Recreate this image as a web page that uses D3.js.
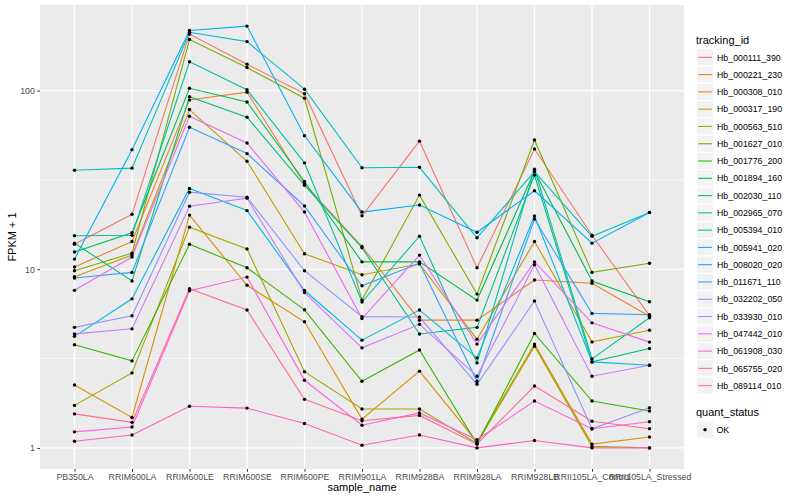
<!DOCTYPE html>
<html>
<head>
<meta charset="utf-8">
<script src="https://cdnjs.cloudflare.com/ajax/libs/d3/7.8.5/d3.min.js"></script>
<style>
  body { margin: 0; background: #ffffff; }
  svg text { font-family: 'Liberation Sans', Arial, Helvetica, sans-serif; }
</style>
</head>
<body>
<svg class="chart" width="800" height="500"></svg>
<script>
// sample names on the x axis
const samples = [
  'PB350LA', 'RRIM600LA', 'RRIM600LE', 'RRIM600SE', 'RRIM600PE', 'RRIM901LA',
  'RRIM928BA', 'RRIM928LA', 'RRIM928LB', 'RRII105LA_Control', 'RRII105LA_Stressed'
];

// one series per tracking id
const trackingIds = [
  'Hb_000111_390', 'Hb_000221_230', 'Hb_000308_010', 'Hb_000317_190', 'Hb_000563_510',
  'Hb_001627_010', 'Hb_001776_200', 'Hb_001894_160', 'Hb_002030_110', 'Hb_002965_070',
  'Hb_005394_010', 'Hb_005941_020', 'Hb_008020_020', 'Hb_011671_110', 'Hb_032202_050',
  'Hb_033930_010', 'Hb_047442_010', 'Hb_061908_030', 'Hb_065755_020', 'Hb_089114_010'
];

// FPKM + 1, rows follow trackingIds, columns follow samples
const fpkm = [
  [13.8, 20.3, 207, 140.6, 96.0, 19.9, 52.1, 10.2, 47.1, 15.5, 5.5],
  [10.3, 14.3, 88.7, 98.0, 30.0, 13.4, 5.19, 5.19, 8.7, 8.35, 5.45],
  [2.25, 1.48, 20.1, 8.13, 5.08, 1.45, 2.69, 1.08, 3.81, 1.05, 1.15],
  [9.08, 12.0, 78.3, 40.2, 12.2, 9.31, 10.7, 4.06, 14.3, 3.92, 4.56],
  [1.73, 2.63, 17.2, 13.0, 2.67, 1.65, 1.65, 1.06, 3.71, 1.02, 1.0],
  [9.81, 12.3, 193, 134.6, 90.6, 6.72, 26.0, 7.26, 52.9, 9.6, 10.8],
  [3.78, 3.07, 13.8, 10.2, 5.93, 2.36, 3.53, 1.05, 4.37, 1.83, 1.61],
  [12.5, 16.0, 103, 86.4, 31.0, 11.0, 11.0, 6.72, 35.5, 8.6, 6.58],
  [14.0, 8.6, 92.5, 71.0, 29.5, 13.2, 4.34, 4.73, 33.7, 3.03, 3.6],
  [15.4, 15.5, 145, 101, 39.4, 6.55, 15.3, 2.99, 36.3, 3.15, 5.35],
  [35.8, 36.8, 212, 188, 101.8, 37.0, 37.2, 15.0, 35.2, 15.3, 20.8],
  [4.21, 6.83, 28.3, 21.3, 7.6, 4.01, 5.91, 3.19, 19.9, 3.03, 2.9],
  [11.4, 46.7, 217, 229.6, 55.9, 20.9, 22.9, 16.1, 27.5, 14.0, 20.8],
  [8.93, 9.6, 62.4, 44.4, 22.6, 8.08, 10.8, 2.36, 19.1, 5.66, 5.56],
  [4.73, 5.49, 27.0, 25.3, 9.81, 5.43, 5.4, 2.27, 6.64, 1.28, 1.68],
  [4.35, 4.64, 22.5, 25.0, 7.4, 3.63, 4.92, 2.52, 10.6, 2.52, 2.9],
  [7.62, 11.7, 71.9, 50.9, 20.9, 5.3, 12.0, 3.81, 11.0, 5.01, 3.91],
  [1.23, 1.31, 7.58, 9.04, 2.39, 1.34, 1.57, 1.11, 1.83, 1.28, 1.4],
  [1.09, 1.18, 1.71, 1.67, 1.37, 1.035, 1.18, 1.0, 1.10, 1.0, 1.0],
  [1.55, 1.39, 7.78, 5.91, 1.87, 1.42, 1.52, 1.05, 2.22, 1.41, 1.28]
];

const quantStatus = ['OK'];
const yTicks = [1, 10, 100];

// ggplot default hue palette for 20 levels
const palette = [
  '#F8766D', '#EA8331', '#D89000', '#C09B00', '#A3A500', '#7CAE00', '#39B600',
  '#00BB4E', '#00BF7D', '#00C1A3', '#00BFC4', '#00BAE0', '#00B0F6', '#35A2FF',
  '#9590FF', '#C77CFF', '#E76BF3', '#FA62DB', '#FF62BC', '#FF6C91'
];

const panel = { left: 40, right: 684, top: 5, bottom: 469 };

const svg = d3.select('svg.chart');

// build long-format rows
const series = trackingIds.map((id, i) => ({
  id: id,
  values: samples.map((s, j) => ({ sample: s, value: fpkm[i][j] }))
}));
const allValues = fpkm.flat();

const xScale = d3.scalePoint()
  .domain(samples)
  .range([panel.left, panel.right])
  .padding(0.6);

// log scale with ggplot-like 5% expansion in log space
const logExt = d3.extent(allValues).map(Math.log10);
const logPad = (logExt[1] - logExt[0]) * 0.05;
const yScale = d3.scaleLog()
  .domain([Math.pow(10, logExt[0] - logPad), Math.pow(10, logExt[1] + logPad)])
  .range([panel.bottom, panel.top]);

const colScale = d3.scaleOrdinal().domain(trackingIds).range(palette);

// panel background
svg.append('rect')
  .attr('x', panel.left)
  .attr('y', panel.top)
  .attr('width', panel.right - panel.left)
  .attr('height', panel.bottom - panel.top)
  .style('fill', '#EBEBEB');

const gridGrp = svg.append('g').attr('class', 'gridGrp');

// minor grid, half way between decades
const minorTicks = [0.5, 1.5, 2.5].map(d => Math.pow(10, d))
  .filter(d => yScale(d) > panel.top && yScale(d) < panel.bottom);

gridGrp.selectAll('line.minor')
  .data(minorTicks)
  .enter()
  .append('line')
  .attr('class', 'minor')
  .attr('x1', panel.left)
  .attr('x2', panel.right)
  .attr('y1', d => yScale(d))
  .attr('y2', d => yScale(d))
  .style('stroke', '#ffffff')
  .style('stroke-width', 0.6);

gridGrp.selectAll('line.majorY')
  .data(yTicks)
  .enter()
  .append('line')
  .attr('class', 'majorY')
  .attr('x1', panel.left)
  .attr('x2', panel.right)
  .attr('y1', d => yScale(d))
  .attr('y2', d => yScale(d))
  .style('stroke', '#ffffff')
  .style('stroke-width', 1.2);

gridGrp.selectAll('line.majorX')
  .data(samples)
  .enter()
  .append('line')
  .attr('class', 'majorX')
  .attr('x1', d => xScale(d))
  .attr('x2', d => xScale(d))
  .attr('y1', panel.top)
  .attr('y2', panel.bottom)
  .style('stroke', '#ffffff')
  .style('stroke-width', 1.2);

// lines
const lineGen = d3.line()
  .x(d => xScale(d.sample))
  .y(d => yScale(d.value));

svg.append('g').attr('class', 'linesGrp')
  .selectAll('path')
  .data(series)
  .enter()
  .append('path')
  .attr('d', d => lineGen(d.values))
  .style('fill', 'none')
  .style('stroke', d => colScale(d.id))
  .style('stroke-width', 1.1);

// points
svg.append('g').attr('class', 'pointsGrp')
  .selectAll('circle')
  .data(series.flatMap(d => d.values))
  .enter()
  .append('circle')
  .attr('cx', d => xScale(d.sample))
  .attr('cy', d => yScale(d.value))
  .attr('r', 1.7)
  .style('fill', '#000000');

// axes
const xAxis = svg.append('g')
  .attr('transform', `translate(0, ${panel.bottom})`)
  .call(d3.axisBottom(xScale).tickSize(2.7).tickPadding(2.2));

const yAxis = svg.append('g')
  .attr('transform', `translate(${panel.left}, 0)`)
  .call(d3.axisLeft(yScale).tickValues(yTicks).tickFormat(d3.format('d')).tickSize(2.7).tickPadding(2.5));

[xAxis, yAxis].forEach(ax => {
  ax.select('.domain').remove();
  ax.selectAll('.tick line').style('stroke', '#333333').style('stroke-width', 1);
  ax.selectAll('.tick text')
    .style('fill', '#4D4D4D')
    .style('font-size', '8.8px')
    .style('font-family', "'Liberation Sans', Arial, sans-serif");
});

// axis titles
svg.append('text')
  .attr('x', (panel.left + panel.right) / 2)
  .attr('y', 491)
  .text('sample_name')
  .style('text-anchor', 'middle')
  .style('font-size', '11px')
  .style('fill', '#000000');

svg.append('text')
  .attr('transform', `translate(15.5, ${(panel.top + panel.bottom) / 2}) rotate(-90)`)
  .text('FPKM + 1')
  .style('text-anchor', 'middle')
  .style('font-size', '11px')
  .style('fill', '#000000');

// legend: tracking_id
const keyH = 17.28;
const keyW = 17;
const legX = 696.5;
const legendGrp = svg.append('g').attr('class', 'legendGrp');

legendGrp.append('text')
  .attr('x', 696)
  .attr('y', 43.5)
  .text('tracking_id')
  .style('font-size', '11px')
  .style('fill', '#000000');

const keyGrps = legendGrp.selectAll('g.key')
  .data(trackingIds)
  .enter()
  .append('g')
  .attr('class', 'key')
  .attr('transform', (d, i) => `translate(${legX}, ${48.7 + i * keyH})`);

keyGrps.append('rect')
  .attr('width', keyW)
  .attr('height', keyH)
  .style('fill', '#F2F2F2')
  .style('stroke', '#ffffff')
  .style('stroke-width', 1);

keyGrps.append('line')
  .attr('x1', 1.7)
  .attr('x2', keyW - 1.7)
  .attr('y1', keyH / 2)
  .attr('y2', keyH / 2)
  .style('stroke', d => colScale(d))
  .style('stroke-width', 1.1);

keyGrps.append('text')
  .attr('x', keyW + 3.5)
  .attr('y', keyH / 2 + 3.2)
  .text(d => d)
  .style('font-size', '8.8px')
  .style('fill', '#000000');

// legend: quant_status
legendGrp.append('text')
  .attr('x', 696)
  .attr('y', 416.3)
  .text('quant_status')
  .style('font-size', '11px')
  .style('fill', '#000000');

const qGrps = legendGrp.selectAll('g.qkey')
  .data(quantStatus)
  .enter()
  .append('g')
  .attr('class', 'qkey')
  .attr('transform', (d, i) => `translate(${legX}, ${421 + i * keyH})`);

qGrps.append('rect')
  .attr('width', keyW)
  .attr('height', keyH)
  .style('fill', '#F2F2F2')
  .style('stroke', '#ffffff')
  .style('stroke-width', 1);

qGrps.append('circle')
  .attr('cx', keyW / 2)
  .attr('cy', keyH / 2)
  .attr('r', 1.7)
  .style('fill', '#000000');

qGrps.append('text')
  .attr('x', keyW + 3)
  .attr('y', keyH / 2 + 3.2)
  .text(d => d)
  .style('font-size', '8.8px')
  .style('fill', '#000000');
</script>
</body>
</html>
